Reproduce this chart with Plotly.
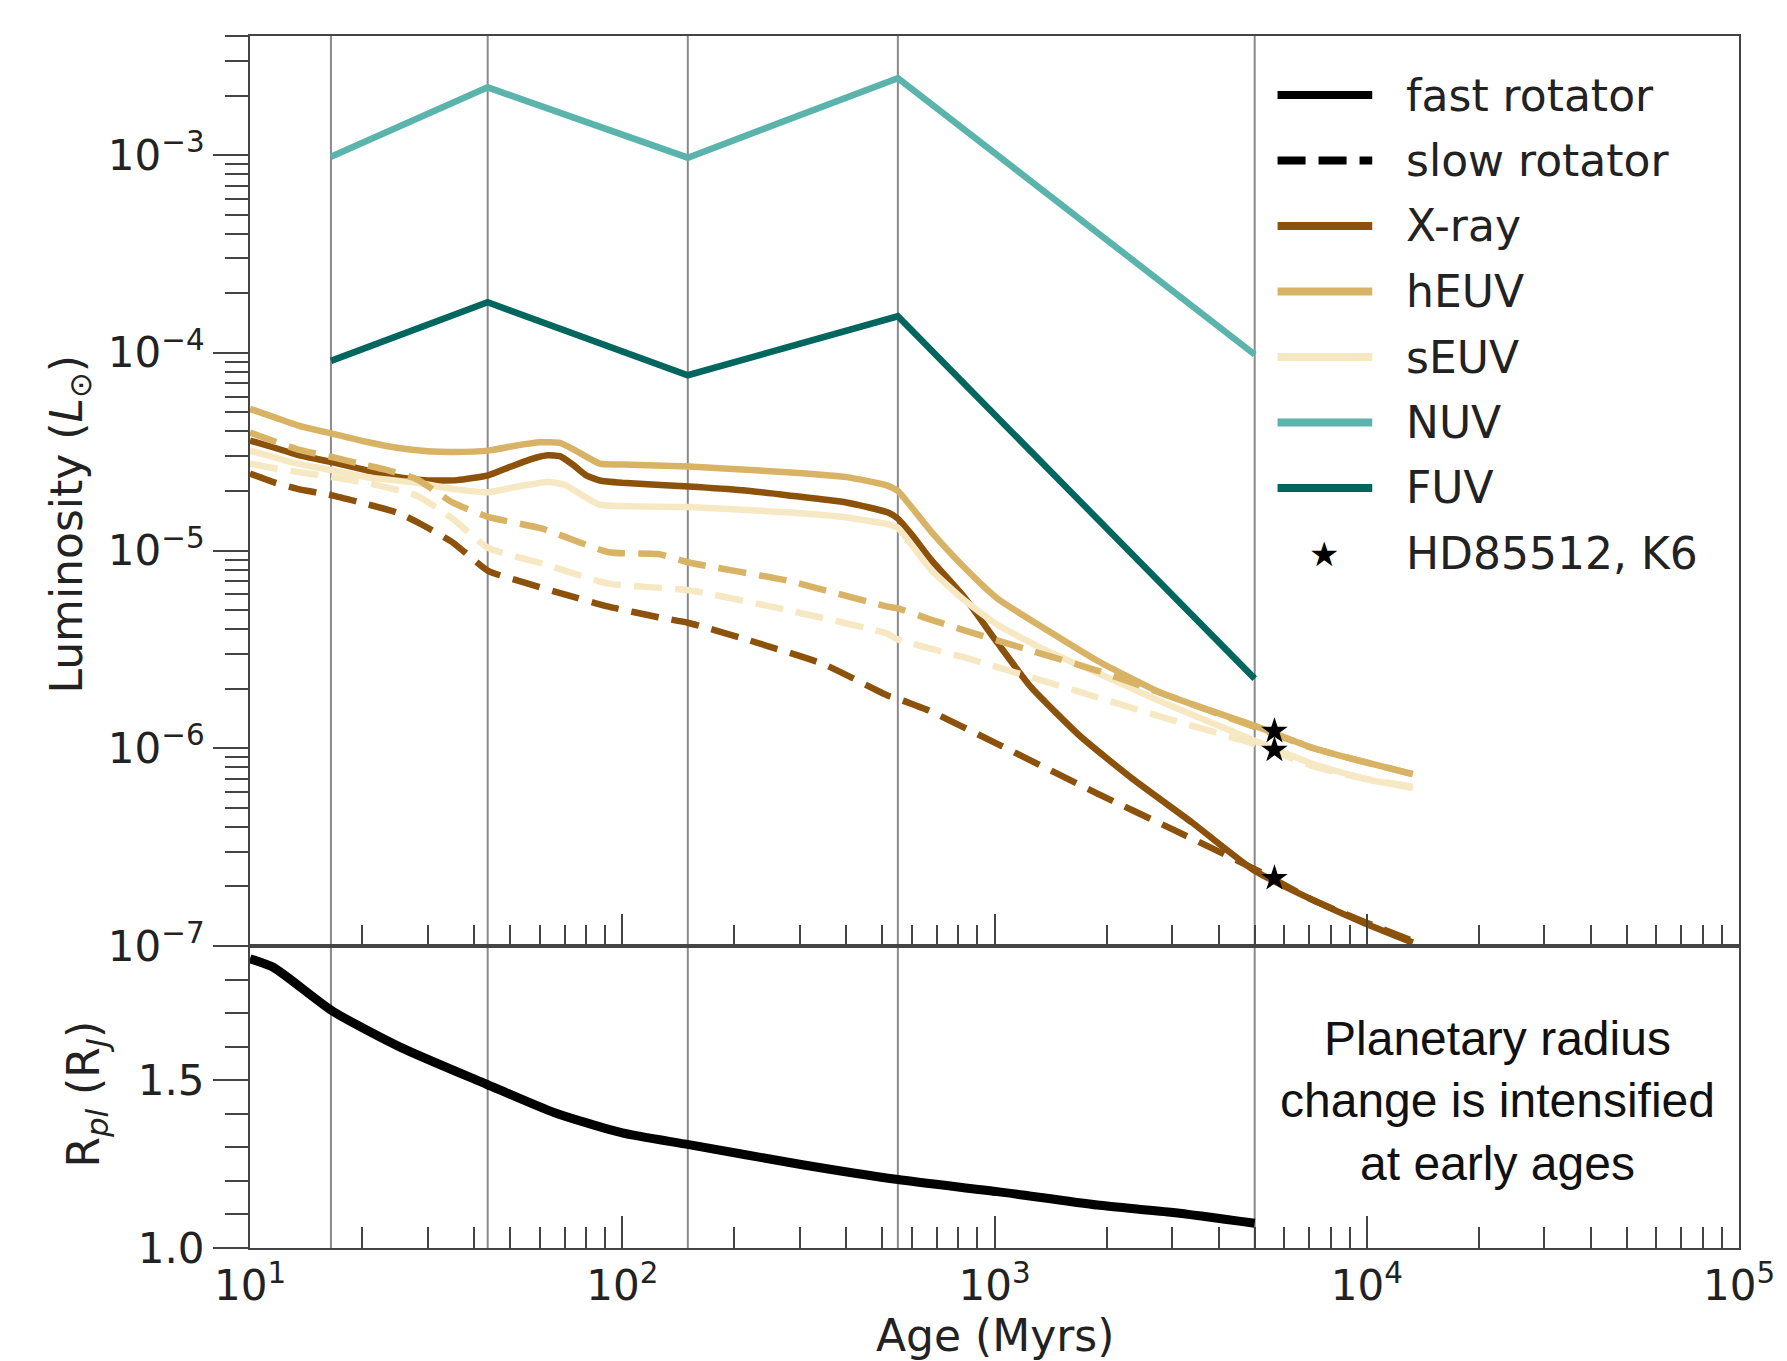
import math
import plotly.graph_objects as go

# ---------------- data ----------------
ref_ages = [16.5, 43.5, 150, 550, 5000]           # vertical reference ages (Myr)
nuv_lum = [9.8e-4, 2.2e-3, 9.7e-4, 2.45e-3, 9.8e-5]
fuv_lum = [9.1e-5, 1.8e-4, 7.7e-5, 1.53e-4, 2.25e-6]

xray_fast_age = [10, 11.7, 13.4, 16.6, 20.5, 25, 30, 36, 43.6, 50, 57, 63, 68, 74, 80, 87, 100, 151, 210, 280,
                 400, 516, 550, 600, 675, 830, 1020, 1250, 1700, 2350, 3400, 5000, 7200, 9900, 13300]
xray_fast_lum = [3.6e-5, 3.3e-5, 3.05e-5, 2.8e-5, 2.55e-5, 2.35e-5, 2.26e-5, 2.27e-5, 2.4e-5, 2.65e-5, 2.9e-5,
                 3.03e-5, 3.0e-5, 2.7e-5, 2.4e-5, 2.26e-5, 2.2e-5, 2.11e-5, 2.02e-5, 1.9e-5, 1.75e-5, 1.56e-5,
                 1.45e-5, 1.2e-5, 9.0e-6, 5.8e-6, 3.4e-6, 2.05e-6, 1.15e-6, 7.0e-7, 4.2e-7, 2.4e-7, 1.7e-7,
                 1.3e-7, 1.04e-7]

xray_slow_age = [10, 11.7, 13.4, 16.6, 20.5, 25, 29, 35, 43.6, 53, 70, 92, 125, 151, 210, 346, 516, 550, 667,
                 1020, 1890, 3000, 5000, 7200, 9900, 13300]
xray_slow_lum = [2.45e-5, 2.2e-5, 2.05e-5, 1.9e-5, 1.72e-5, 1.55e-5, 1.35e-5, 1.1e-5, 7.9e-6, 7.0e-6, 6.0e-6,
                 5.2e-6, 4.6e-6, 4.3e-6, 3.6e-6, 2.67e-6, 1.85e-6, 1.78e-6, 1.55e-6, 1.05e-6, 5.9e-7, 3.9e-7,
                 2.45e-7, 1.7e-7, 1.32e-7, 1.06e-7]

heuv_fast_age = [10, 11.7, 13.4, 16.6, 20.5, 25, 30, 35, 43.6, 52, 60, 68, 75, 87, 100, 151, 277, 400, 516,
                 550, 675, 830, 1020, 1390, 1890, 2850, 5000, 7200, 9900, 13300]
heuv_fast_lum = [5.2e-5, 4.7e-5, 4.3e-5, 3.9e-5, 3.55e-5, 3.3e-5, 3.18e-5, 3.15e-5, 3.2e-5, 3.4e-5, 3.53e-5,
                 3.5e-5, 3.2e-5, 2.75e-5, 2.72e-5, 2.66e-5, 2.49e-5, 2.35e-5, 2.13e-5, 2.0e-5, 1.25e-5,
                 8.2e-6, 5.7e-6, 3.94e-6, 2.77e-6, 1.88e-6, 1.3e-6, 1.0e-6, 8.5e-7, 7.4e-7]

heuv_slow_age = [10, 11.7, 13.4, 16.6, 20.5, 23, 28, 35, 43.6, 61, 92, 125, 151, 277, 516, 550, 667, 830,
                 1250, 1890, 2850, 5000, 7200, 9900, 13300]
heuv_slow_lum = [3.95e-5, 3.55e-5, 3.25e-5, 2.97e-5, 2.7e-5, 2.57e-5, 2.3e-5, 1.75e-5, 1.48e-5, 1.29e-5,
                 9.8e-6, 9.6e-6, 8.7e-6, 7.05e-6, 5.2e-6, 5.1e-6, 4.5e-6, 3.95e-6, 3.12e-6, 2.47e-6, 1.88e-6,
                 1.28e-6, 1.0e-6, 8.5e-7, 7.4e-7]

seuv_fast_age = [10, 11.7, 13.4, 16.6, 20.5, 28, 35, 43.6, 52, 63, 70, 80, 87, 151, 277, 400, 516, 550, 675,
                 830, 1020, 1390, 1890, 2850, 5000, 7200, 9900, 13300]
seuv_fast_lum = [3.2e-5, 2.95e-5, 2.75e-5, 2.55e-5, 2.35e-5, 2.2e-5, 2.05e-5, 1.97e-5, 2.1e-5, 2.22e-5,
                 2.15e-5, 1.85e-5, 1.7e-5, 1.66e-5, 1.56e-5, 1.47e-5, 1.36e-5, 1.3e-5, 8.0e-6, 5.6e-6,
                 4.2e-6, 3.1e-6, 2.4e-6, 1.7e-6, 1.09e-6, 8.3e-7, 7.0e-7, 6.3e-7]

seuv_slow_age = [10, 11.7, 13.4, 16.6, 20.5, 28, 35, 43.6, 61, 92, 151, 277, 516, 550, 830, 1250, 1890, 2850,
                 5000, 7200, 9900, 13300]
seuv_slow_lum = [2.75e-5, 2.6e-5, 2.5e-5, 2.35e-5, 2.2e-5, 1.9e-5, 1.45e-5, 1.03e-5, 8.6e-6, 6.8e-6, 6.3e-6,
                 5.0e-6, 3.8e-6, 3.55e-6, 2.88e-6, 2.29e-6, 1.81e-6, 1.43e-6, 1.05e-6, 8.1e-7, 7.0e-7, 6.4e-7]

star_age = [5650, 5650, 5650]
star_lum = [1.22e-6, 9.8e-7, 2.2e-7]

radius_age = [10, 11.6, 16.6, 25.4, 43.2, 65.8, 100, 151, 302, 550, 1018, 1888, 3013, 5000]
radius_rj = [1.862, 1.835, 1.707, 1.598, 1.488, 1.403, 1.343, 1.308, 1.249, 1.204, 1.168, 1.128, 1.106, 1.074]

x_tick_vals = [1e1, 1e2, 1e3, 1e4, 1e5]
x_tick_text = ["10<sup>1</sup>", "10<sup>2</sup>", "10<sup>3</sup>", "10<sup>4</sup>", "10<sup>5</sup>"]
y_tick_vals = [1e-7, 1e-6, 1e-5, 1e-4, 1e-3]
y_tick_text = ["10<sup>\u22127</sup>", "10<sup>\u22126</sup>", "10<sup>\u22125</sup>",
               "10<sup>\u22124</sup>", "10<sup>\u22123</sup>"]
r_tick_vals = [1.0, 1.5]
r_tick_text = ["1.0", "1.5"]

legend_labels = ["fast rotator", "slow rotator", "X-ray", "hEUV", "sEUV", "NUV", "FUV", "HD85512, K6"]

# ---------------- style ----------------
C_XRAY = "#8c510a"
C_HEUV = "#d8b365"
C_SEUV = "#f6e8c3"
C_NUV = "#5ab4ac"
C_FUV = "#01665e"
DASH = "28px,13px"
LW = 6.5
AX = "#444444"
FONT = "DejaVu Sans"

W, H = 1787, 1361
ML, MR, MT, MB = 250, 43, 36, 113
PW = W - ML - MR
PH = H - MT - MB
split = (H - MB - 946) / PH  # lower panel fraction


def px(xp):
    return (xp - ML) / PW


def py(yp):
    return (H - MB - yp) / PH


fig = go.Figure()


def add_line(x, y, color, dash="solid", width=LW, xa="x", ya="y", shape="linear", smooth=0.5):
    fig.add_trace(go.Scatter(x=x, y=y, mode="lines", xaxis=xa, yaxis=ya, showlegend=False,
                             line=dict(color=color, width=width, dash=dash, shape=shape, smoothing=smooth),
                             hoverinfo="skip"))


add_line(xray_fast_age, xray_fast_lum, C_XRAY, shape="spline")
add_line(heuv_fast_age, heuv_fast_lum, C_HEUV, shape="spline")
add_line(seuv_fast_age, seuv_fast_lum, C_SEUV, shape="spline")
add_line(xray_slow_age, xray_slow_lum, C_XRAY, DASH, shape="spline")
add_line(heuv_slow_age, heuv_slow_lum, C_HEUV, DASH, shape="spline")
add_line(seuv_slow_age, seuv_slow_lum, C_SEUV, DASH, shape="spline")
add_line(ref_ages, nuv_lum, C_NUV)
add_line(ref_ages, fuv_lum, C_FUV)

fig.add_trace(go.Scatter(x=star_age, y=star_lum, mode="markers", showlegend=False, hoverinfo="skip",
                         marker=dict(symbol="star", size=20, color="black", line=dict(width=0))))

add_line(radius_age, radius_rj, "black", width=9, xa="x2", ya="y2", shape="spline", smooth=0.6)

# vertical reference lines through both panels
shapes = []
for a in ref_ages:
    shapes.append(dict(type="line", xref="x", yref="paper", x0=a, x1=a, y0=0, y1=1,
                       line=dict(color="#8a8a8a", width=2), layer="below"))

# manual legend
leg_rows = [95 + 65.5 * i for i in range(8)]
leg_styles = [("black", "solid"), ("black", DASH), (C_XRAY, "solid"), (C_HEUV, "solid"),
              (C_SEUV, "solid"), (C_NUV, "solid"), (C_FUV, "solid")]
annotations = []
for i, (col, dsh) in enumerate(leg_styles):
    shapes.append(dict(type="line", xref="paper", yref="paper", x0=px(1281), x1=px(1376),
                       y0=py(leg_rows[i]), y1=py(leg_rows[i]), line=dict(color=col, width=8, dash=dsh)))
annotations.append(dict(xref="paper", yref="paper", x=px(1328), y=py(leg_rows[7]), text="\u2605",
                        showarrow=False, xanchor="center", yanchor="middle",
                        font=dict(family=FONT, size=34, color="black")))
for i, lab in enumerate(legend_labels):
    annotations.append(dict(xref="paper", yref="paper", x=px(1408), y=py(leg_rows[i]), text=lab,
                            showarrow=False, xanchor="left", yanchor="middle",
                            font=dict(family=FONT, size=44, color="#222222")))

# axis titles
annotations.append(dict(xref="paper", yref="paper", x=px(68), y=py(524),
                        text="Luminosity (<i>L</i><sub>\u2299</sub>)", textangle=-90, showarrow=False,
                        xanchor="center", yanchor="middle", font=dict(family=FONT, size=44, color="#222222")))
annotations.append(dict(xref="paper", yref="paper", x=px(85), y=py(1094),
                        text="R<sub><i>pl</i></sub> (R<sub><i>J</i></sub>)", textangle=-90, showarrow=False,
                        xanchor="center", yanchor="middle", font=dict(family=FONT, size=44, color="#222222")))
annotations.append(dict(xref="paper", yref="paper", x=0.5, y=py(1335), text="Age (Myrs)", showarrow=False,
                        xanchor="center", yanchor="middle", font=dict(family=FONT, size=44, color="#222222")))
annotations.append(dict(xref="paper", yref="paper", x=px(1502), y=py(1101),
                        text="Planetary radius<br>change is intensified<br>at early ages", showarrow=False,
                        xanchor="center", yanchor="middle", align="center",
                        font=dict(family="Liberation Sans", size=48, color="#111111")))

minor_x = [k * 10 ** e for e in range(1, 5) for k in range(2, 10)]
minor_y = [k * 10 ** e for e in range(-7, -2) for k in range(2, 10) if k * 10 ** e <= 4.01e-3]
minor_r = [1.1, 1.2, 1.3, 1.4, 1.6, 1.7, 1.8, 1.9]

tickfont = dict(family=FONT, size=42, color="#222222")
common_x = dict(type="log", range=[1, 5], tickmode="array", tickvals=x_tick_vals, ticktext=x_tick_text,
                ticks="inside", ticklen=32, tickwidth=2, tickcolor=AX, showline=True, linecolor=AX,
                linewidth=2, mirror=True, showgrid=False, zeroline=False, tickfont=tickfont,
                minor=dict(ticks="inside", ticklen=21, tickwidth=2, tickcolor=AX, tickmode="array",
                           tickvals=minor_x, showgrid=False))

fig.update_layout(
    width=W, height=H, margin=dict(l=ML, r=MR, t=MT, b=MB),
    paper_bgcolor="white", plot_bgcolor="white", showlegend=False,
    xaxis=dict(common_x, domain=[0, 1], anchor="y", showticklabels=False, matches="x2"),
    xaxis2=dict(common_x, domain=[0, 1], anchor="y2", showticklabels=True),
    yaxis=dict(type="log", domain=[split, 1], anchor="x", range=[-7, math.log10(4e-3)],
               tickmode="array", tickvals=y_tick_vals, ticktext=y_tick_text,
               ticks="outside", ticklen=35, tickwidth=2, tickcolor=AX, showline=True, linecolor=AX,
               linewidth=2, mirror=True, showgrid=False, zeroline=False, tickfont=tickfont,
               minor=dict(ticks="outside", ticklen=23, tickwidth=2, tickcolor=AX, tickmode="array",
                          tickvals=minor_y, showgrid=False)),
    yaxis2=dict(domain=[0, split], anchor="x2", range=[1.0, 1.9], tickmode="array", tickvals=r_tick_vals,
                ticktext=r_tick_text, ticks="outside", ticklen=35, tickwidth=2, tickcolor=AX, showline=True,
                linecolor=AX, linewidth=2, mirror=True, showgrid=False, zeroline=False, tickfont=tickfont,
                minor=dict(ticks="outside", ticklen=23, tickwidth=2, tickcolor=AX, tickmode="array",
                           tickvals=minor_r, showgrid=False)),
    shapes=shapes, annotations=annotations,
)

fig.write_html("out.html")
